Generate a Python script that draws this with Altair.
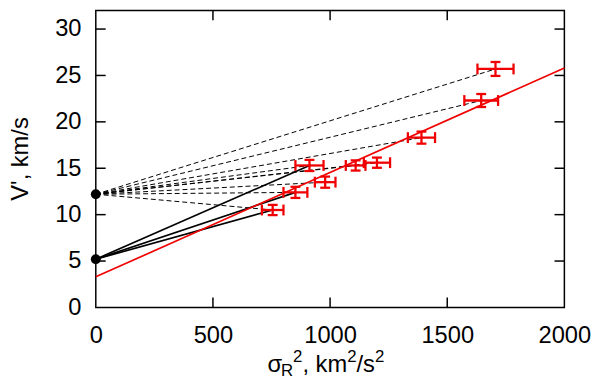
import altair as alt
import pandas as pd

# ---------------- data ----------------
sigma2 = [755, 852, 912, 979, 1109, 1200, 1390, 1645, 1706]
sigma2_err = [46, 51, 60, 44, 42, 56, 58, 72, 77]
v_prime = [10.5, 12.4, 15.3, 13.5, 15.3, 15.6, 18.3, 22.3, 25.7]
v_prime_err = [0.55, 0.6, 0.6, 0.6, 0.55, 0.55, 0.65, 0.7, 0.75]

dashed_origin_v = 12.2          # upper black dot at sigma^2 = 0
solid_origin_v = 5.2            # lower black dot at sigma^2 = 0
solid_targets = [0, 1, 2]       # points joined to the lower dot

fit_x = [0, 2000]
fit_v = [3.3, 25.8]

x_label_values = [0, 500, 1000, 1500, 2000]
y_label_values = [0, 5, 10, 15, 20, 25, 30]
x_inner_ticks = [500, 1000, 1500]
y_inner_ticks = [5, 10, 15, 20, 25, 30]

# ---------------- tables ----------------
pts = pd.DataFrame({"x": sigma2, "xe": sigma2_err, "y": v_prime, "ye": v_prime_err})
pts["xlo"] = pts["x"] - pts["xe"]
pts["xhi"] = pts["x"] + pts["xe"]
pts["ylo"] = pts["y"] - pts["ye"]
pts["yhi"] = pts["y"] + pts["ye"]

dash_rows = []
for i, (sx, sv) in enumerate(zip(sigma2, v_prime)):
    dash_rows.append({"x": 0, "y": dashed_origin_v, "g": i, "o": 0})
    dash_rows.append({"x": sx, "y": sv, "g": i, "o": 1})
dash_df = pd.DataFrame(dash_rows)

solid_rows = []
for i in solid_targets:
    solid_rows.append({"x": 0, "y": solid_origin_v, "g": i, "o": 0})
    solid_rows.append({"x": sigma2[i], "y": v_prime[i], "g": i, "o": 1})
solid_df = pd.DataFrame(solid_rows)

origins = pd.DataFrame({"x": [0, 0], "y": [dashed_origin_v, solid_origin_v]})
fit_df = pd.DataFrame({"x": fit_x, "y": fit_v})
xt_df = pd.DataFrame({"t": x_inner_ticks})
yt_df = pd.DataFrame({"t": y_inner_ticks})

# ---------------- layout / style ----------------
W, H = 475, 301
RED = "#f00000"
FONT = "Liberation Sans"
TICK = 10

xs = alt.Scale(domain=[0, 2000], nice=False, zero=False)
ys = alt.Scale(domain=[0, 32], nice=False, zero=False)

x_axis = alt.Axis(values=x_label_values, format="d", ticks=False, tickSize=0,
                  domain=False, grid=False, labelFontSize=24, labelFont=FONT,
                  labelColor="black", labelPadding=17, labelFlush=False,
                  labelOverlap=False)
y_axis = alt.Axis(values=y_label_values, format="d", ticks=False, tickSize=0,
                  domain=False, grid=False, labelFontSize=24, labelFont=FONT,
                  labelColor="black", labelPadding=15, labelFlush=False,
                  labelOverlap=False, titleFontSize=24, titleFont=FONT,
                  titleFontWeight="normal", titleColor="black", titleAngle=270,
                  titleX=-69, titleY=150, titleAlign="center",
                  titleBaseline="alphabetic")

def X(f):
    return alt.X(f, type="quantitative", scale=xs, axis=x_axis, title=None)

def Y(f):
    return alt.Y(f, type="quantitative", scale=ys, axis=y_axis, title="V', km/s")

fit = alt.Chart(fit_df).mark_line(color=RED, strokeWidth=1.7).encode(x=X("x"), y=Y("y"))

dashed = alt.Chart(dash_df).mark_line(color="black", strokeWidth=1, strokeDash=[5, 3]).encode(
    x=X("x"), y=Y("y"), detail="g:N", order="o:Q")

solid = alt.Chart(solid_df).mark_line(color="black", strokeWidth=1.7).encode(
    x=X("x"), y=Y("y"), detail="g:N", order="o:Q")

EBW = 2.3
xbar = alt.Chart(pts).mark_rule(color=RED, strokeWidth=EBW).encode(x=X("xlo"), x2="xhi", y=Y("y"))
ybar = alt.Chart(pts).mark_rule(color=RED, strokeWidth=EBW).encode(x=X("x"), y=Y("ylo"), y2="yhi")
xcap_lo = alt.Chart(pts).mark_tick(orient="vertical", size=11, thickness=EBW, color=RED, opacity=1).encode(x=X("xlo"), y=Y("y"))
xcap_hi = alt.Chart(pts).mark_tick(orient="vertical", size=11, thickness=EBW, color=RED, opacity=1).encode(x=X("xhi"), y=Y("y"))
ycap_lo = alt.Chart(pts).mark_tick(orient="horizontal", size=10, thickness=EBW, color=RED, opacity=1).encode(x=X("x"), y=Y("ylo"))
ycap_hi = alt.Chart(pts).mark_tick(orient="horizontal", size=10, thickness=EBW, color=RED, opacity=1).encode(x=X("x"), y=Y("yhi"))

dots = alt.Chart(origins).mark_point(filled=True, color="black", size=100, opacity=1).encode(
    x=X("x"), y=Y("y"))

# inward ticks on all four sides
tb = alt.Chart(xt_df).mark_rule(color="black", strokeWidth=1.5).encode(
    x=X("t"), y=alt.value(H), y2=alt.value(H - TICK))
tt = alt.Chart(xt_df).mark_rule(color="black", strokeWidth=1.5).encode(
    x=X("t"), y=alt.value(0), y2=alt.value(TICK))
tl = alt.Chart(yt_df).mark_rule(color="black", strokeWidth=1.5).encode(
    y=Y("t"), x=alt.value(0), x2=alt.value(TICK))
tr = alt.Chart(yt_df).mark_rule(color="black", strokeWidth=1.5).encode(
    y=Y("t"), x=alt.value(W), x2=alt.value(W - TICK))

# x-axis title with subscript / superscripts, built from text pieces
x0, base = 174, 366
title_pieces = [
    ("σ", 0.0, 0, 24),
    ("R", 13.7, 4, 17),
    ("2", 26.0, -10, 17),
    (", km", 35.5, 0, 24),
    ("2", 80.8, -10, 17),
    ("/s", 90.3, 0, 24),
    ("2", 109.0, -10, 17),
]
title_layers = []
for s, dx, dy, fs in title_pieces:
    title_layers.append(
        alt.Chart(pd.DataFrame({"t": [s]})).mark_text(
            align="left", baseline="alphabetic", fontSize=fs, font=FONT, color="black"
        ).encode(x=alt.value(x0 + dx), y=alt.value(base + dy), text="t:N")
    )

chart = alt.layer(
    dashed, solid, fit, xbar, ybar, xcap_lo, xcap_hi, ycap_lo, ycap_hi, dots,
    tb, tt, tl, tr, *title_layers
).properties(
    width=W, height=H,
    autosize=alt.AutoSizeParams(type="none"),
    padding={"left": 89, "top": 0, "right": 28, "bottom": 69},
).configure_view(stroke="black", strokeWidth=1.5)

chart.save("out.html", embed_options={"renderer": "svg", "actions": False})
